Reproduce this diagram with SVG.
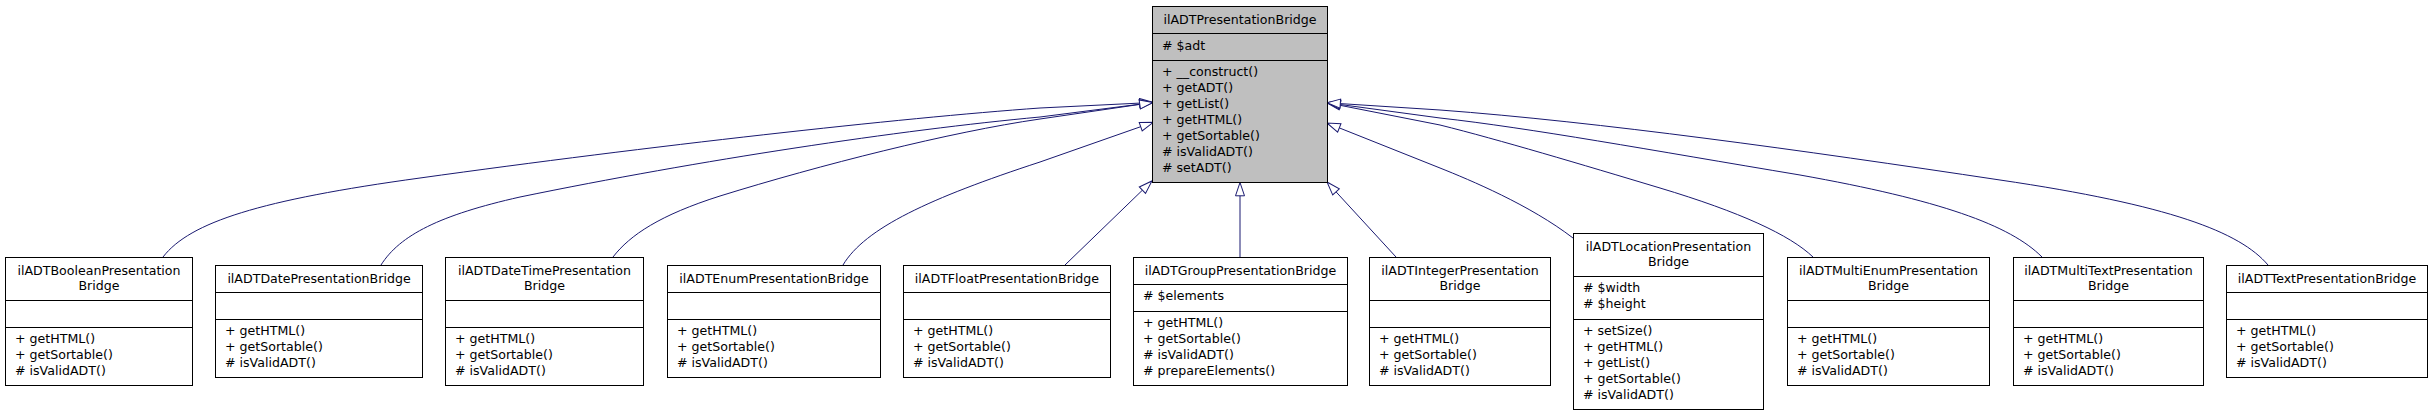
<svg xmlns="http://www.w3.org/2000/svg" width="2432" height="416" viewBox="0 0 2432 416">
<style>
text{font-family:"DejaVu Sans","Liberation Sans",sans-serif;font-size:12.6px;fill:#000}
.t{text-anchor:middle}
.box{fill:#fff;stroke:#000;stroke-width:1}
.main{fill:#bfbfbf;stroke:#000;stroke-width:1}
.sep{stroke:#000;stroke-width:1}
.e{fill:none;stroke:#191970;stroke-width:1}
</style>
<defs>
<marker id="tri" markerUnits="userSpaceOnUse" markerWidth="16" markerHeight="12" refX="0" refY="4.5" orient="auto" overflow="visible">
<path d="M0,0 L13.3,4.5 L0,9 Z" fill="#fff" stroke="#191970" stroke-width="1"/>
</marker>
</defs>
<rect width="2432" height="416" fill="#fff"/>
<g id="edges">
<path class="e" marker-end="url(#tri)" d="M163,257 C190,222 260,200 420,178 C650,146 900,118 1040,108 L1139.7,103.1"/>
<path class="e" marker-end="url(#tri)" d="M381,265 C400,235 440,215 520,197 C700,160 900,130 1040,117 L1139.8,104.2"/>
<path class="e" marker-end="url(#tri)" d="M613,257 C630,235 660,215 720,196 C820,165 950,132 1040,119 L1139.8,104.4"/>
<path class="e" marker-end="url(#tri)" d="M843,265 C865,228 930,198 1040,162 L1140.7,126.7"/>
<path class="e" marker-end="url(#tri)" d="M1065,265 L1142.4,190.2"/>
<path class="e" marker-end="url(#tri)" d="M1240,257 L1240,195.8"/>
<path class="e" marker-end="url(#tri)" d="M1396,257 L1336,191.8"/>
<path class="e" marker-end="url(#tri)" d="M1573,238 C1530,205 1470,180 1440,168 L1339.3,127.9"/>
<path class="e" marker-end="url(#tri)" d="M1813,257 C1790,235 1740,212 1660,188 C1580,164 1500,140 1440,125 L1340,105.3"/>
<path class="e" marker-end="url(#tri)" d="M2042,257 C2010,225 1940,200 1800,175 C1650,150 1530,128 1440,118 L1340.2,104.5"/>
<path class="e" marker-end="url(#tri)" d="M2268,265 C2240,232 2170,205 2000,180 C1800,150 1600,122 1440,110 L1340.3,103.6"/>
</g>
<g id="ilADTPresentationBridge">
<rect class="main" x="1152.5" y="6.5" width="175" height="176"/>
<line class="sep" x1="1152.5" y1="33.5" x2="1327.5" y2="33.5"/>
<line class="sep" x1="1152.5" y1="60.5" x2="1327.5" y2="60.5"/>
<text class="t" x="1240" y="24">ilADTPresentationBridge</text>
<text x="1162" y="50"># $adt</text>
<text x="1162" y="76">+ __construct()</text>
<text x="1162" y="92">+ getADT()</text>
<text x="1162" y="108">+ getList()</text>
<text x="1162" y="124">+ getHTML()</text>
<text x="1162" y="140">+ getSortable()</text>
<text x="1162" y="156"># isValidADT()</text>
<text x="1162" y="172"># setADT()</text>
</g>
<g id="ilADTBooleanPresentationBridge">
<rect class="box" x="5.5" y="257.5" width="187" height="128"/>
<line class="sep" x1="5.5" y1="300.5" x2="192.5" y2="300.5"/>
<line class="sep" x1="5.5" y1="327.5" x2="192.5" y2="327.5"/>
<text class="t" x="99" y="275">ilADTBooleanPresentation</text>
<text class="t" x="99" y="290">Bridge</text>
<text x="15" y="343">+ getHTML()</text>
<text x="15" y="359">+ getSortable()</text>
<text x="15" y="375"># isValidADT()</text>
</g>
<g id="ilADTDatePresentationBridge">
<rect class="box" x="215.5" y="265.5" width="207" height="112"/>
<line class="sep" x1="215.5" y1="292.5" x2="422.5" y2="292.5"/>
<line class="sep" x1="215.5" y1="319.5" x2="422.5" y2="319.5"/>
<text class="t" x="319" y="283">ilADTDatePresentationBridge</text>
<text x="225" y="335">+ getHTML()</text>
<text x="225" y="351">+ getSortable()</text>
<text x="225" y="367"># isValidADT()</text>
</g>
<g id="ilADTDateTimePresentationBridge">
<rect class="box" x="445.5" y="257.5" width="198" height="128"/>
<line class="sep" x1="445.5" y1="300.5" x2="643.5" y2="300.5"/>
<line class="sep" x1="445.5" y1="327.5" x2="643.5" y2="327.5"/>
<text class="t" x="544.5" y="275">ilADTDateTimePresentation</text>
<text class="t" x="544.5" y="290">Bridge</text>
<text x="455" y="343">+ getHTML()</text>
<text x="455" y="359">+ getSortable()</text>
<text x="455" y="375"># isValidADT()</text>
</g>
<g id="ilADTEnumPresentationBridge">
<rect class="box" x="667.5" y="265.5" width="213" height="112"/>
<line class="sep" x1="667.5" y1="292.5" x2="880.5" y2="292.5"/>
<line class="sep" x1="667.5" y1="319.5" x2="880.5" y2="319.5"/>
<text class="t" x="774" y="283">ilADTEnumPresentationBridge</text>
<text x="677" y="335">+ getHTML()</text>
<text x="677" y="351">+ getSortable()</text>
<text x="677" y="367"># isValidADT()</text>
</g>
<g id="ilADTFloatPresentationBridge">
<rect class="box" x="903.5" y="265.5" width="207" height="112"/>
<line class="sep" x1="903.5" y1="292.5" x2="1110.5" y2="292.5"/>
<line class="sep" x1="903.5" y1="319.5" x2="1110.5" y2="319.5"/>
<text class="t" x="1007" y="283">ilADTFloatPresentationBridge</text>
<text x="913" y="335">+ getHTML()</text>
<text x="913" y="351">+ getSortable()</text>
<text x="913" y="367"># isValidADT()</text>
</g>
<g id="ilADTGroupPresentationBridge">
<rect class="box" x="1133.5" y="257.5" width="214" height="128"/>
<line class="sep" x1="1133.5" y1="284.5" x2="1347.5" y2="284.5"/>
<line class="sep" x1="1133.5" y1="311.5" x2="1347.5" y2="311.5"/>
<text class="t" x="1240.5" y="275">ilADTGroupPresentationBridge</text>
<text x="1143" y="300"># $elements</text>
<text x="1143" y="327">+ getHTML()</text>
<text x="1143" y="343">+ getSortable()</text>
<text x="1143" y="359"># isValidADT()</text>
<text x="1143" y="375"># prepareElements()</text>
</g>
<g id="ilADTIntegerPresentationBridge">
<rect class="box" x="1369.5" y="257.5" width="181" height="128"/>
<line class="sep" x1="1369.5" y1="300.5" x2="1550.5" y2="300.5"/>
<line class="sep" x1="1369.5" y1="327.5" x2="1550.5" y2="327.5"/>
<text class="t" x="1460" y="275">ilADTIntegerPresentation</text>
<text class="t" x="1460" y="290">Bridge</text>
<text x="1379" y="343">+ getHTML()</text>
<text x="1379" y="359">+ getSortable()</text>
<text x="1379" y="375"># isValidADT()</text>
</g>
<g id="ilADTLocationPresentationBridge">
<rect class="box" x="1573.5" y="233.5" width="190" height="176"/>
<line class="sep" x1="1573.5" y1="276.5" x2="1763.5" y2="276.5"/>
<line class="sep" x1="1573.5" y1="319.5" x2="1763.5" y2="319.5"/>
<text class="t" x="1668.5" y="251">ilADTLocationPresentation</text>
<text class="t" x="1668.5" y="266">Bridge</text>
<text x="1583" y="292"># $width</text>
<text x="1583" y="308"># $height</text>
<text x="1583" y="335">+ setSize()</text>
<text x="1583" y="351">+ getHTML()</text>
<text x="1583" y="367">+ getList()</text>
<text x="1583" y="383">+ getSortable()</text>
<text x="1583" y="399"># isValidADT()</text>
</g>
<g id="ilADTMultiEnumPresentationBridge">
<rect class="box" x="1787.5" y="257.5" width="202" height="128"/>
<line class="sep" x1="1787.5" y1="300.5" x2="1989.5" y2="300.5"/>
<line class="sep" x1="1787.5" y1="327.5" x2="1989.5" y2="327.5"/>
<text class="t" x="1888.5" y="275">ilADTMultiEnumPresentation</text>
<text class="t" x="1888.5" y="290">Bridge</text>
<text x="1797" y="343">+ getHTML()</text>
<text x="1797" y="359">+ getSortable()</text>
<text x="1797" y="375"># isValidADT()</text>
</g>
<g id="ilADTMultiTextPresentationBridge">
<rect class="box" x="2013.5" y="257.5" width="190" height="128"/>
<line class="sep" x1="2013.5" y1="300.5" x2="2203.5" y2="300.5"/>
<line class="sep" x1="2013.5" y1="327.5" x2="2203.5" y2="327.5"/>
<text class="t" x="2108.5" y="275">ilADTMultiTextPresentation</text>
<text class="t" x="2108.5" y="290">Bridge</text>
<text x="2023" y="343">+ getHTML()</text>
<text x="2023" y="359">+ getSortable()</text>
<text x="2023" y="375"># isValidADT()</text>
</g>
<g id="ilADTTextPresentationBridge">
<rect class="box" x="2226.5" y="265.5" width="201" height="112"/>
<line class="sep" x1="2226.5" y1="292.5" x2="2427.5" y2="292.5"/>
<line class="sep" x1="2226.5" y1="319.5" x2="2427.5" y2="319.5"/>
<text class="t" x="2327" y="283">ilADTTextPresentationBridge</text>
<text x="2236" y="335">+ getHTML()</text>
<text x="2236" y="351">+ getSortable()</text>
<text x="2236" y="367"># isValidADT()</text>
</g>
</svg>
